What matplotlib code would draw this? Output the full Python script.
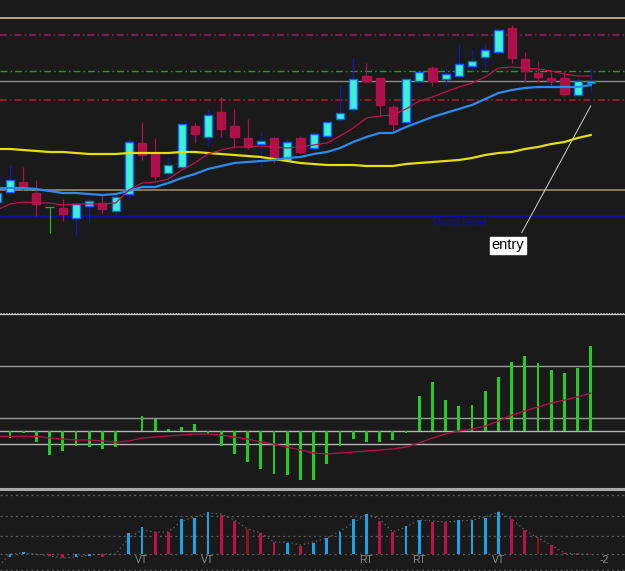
import matplotlib
matplotlib.use('Agg')
import matplotlib.pyplot as plt
import numpy as np
from matplotlib.lines import Line2D

plt.rcParams['lines.scale_dashes'] = False
plt.rcParams['font.family'] = ['Liberation Sans', 'DejaVu Sans']

# ---------------- data (price in pips above a base level) ----------------
opens  = [109, 119, 129, 118, 104, 103,  93, 105, 108, 100,
          117, 168, 158, 138, 144, 185, 174, 199, 185, 173,
          167, 173, 151, 173, 163, 175, 192, 202, 235, 233,
          204, 189, 230, 243, 232, 235, 245, 254, 259, 283,
          252, 238, 233, 233, 216, 228]
highs  = [121, 146, 144, 131, 104, 112, 107, 114, 116, 119,
          173, 189, 173, 154, 187, 188, 202, 214, 202, 192,
          179, 175, 173, 175, 180, 189, 226, 253, 248, 233,
          206, 234, 239, 245, 243, 267, 262, 268, 281, 286,
          259, 250, 239, 240, 233, 243]
lows   = [106, 119, 121,  95,  78,  90,  76,  88,  98,  95,
          112, 151, 131, 131, 144, 168, 165, 174, 163, 162,
          144, 148, 149, 157, 160, 174, 190, 199, 228, 194,
          180, 189, 230, 225, 225, 235, 240, 244, 256, 248,
          229, 229, 226, 215, 216, 220]
closes = [118, 131, 123, 107, 104,  97, 107, 110, 102, 114,
          169, 156, 135, 146, 187, 177, 196, 182, 174, 164,
          170, 152, 169, 159, 177, 189, 198, 232, 230, 206,
          187, 232, 239, 230, 237, 247, 250, 261, 281, 253,
          240, 234, 230, 217, 230, 230]

ma_fast = [101, 107, 109, 108, 108, 106, 107, 107, 107, 108,
           121, 128, 129, 132, 141, 148, 157, 161, 164, 164,
           165, 164, 163, 164, 166, 168, 175, 183, 193, 195,
           196, 202, 210, 214, 219, 224, 228, 234, 243, 244,
           243, 242, 240, 237, 235, 235]
ma_mid  = [123, 123, 123, 122, 120, 118, 118, 117, 116, 117,
           120, 124, 124, 128, 133, 137, 142, 145, 148, 149,
           150, 151, 153, 154, 157, 159, 163, 169, 174, 178,
           178, 184, 189, 194, 198, 202, 206, 212, 218, 221,
           223, 224, 224, 224, 224, 226]
ma_slow = [162, 162, 161, 160, 159, 159, 158, 157, 157, 157,
           158, 158, 158, 158, 159, 159, 158, 157, 156, 155,
           154, 152, 150, 148, 147, 146, 146, 146, 145, 145,
           145, 147, 148, 149, 150, 151, 153, 156, 158, 159,
           162, 164, 167, 169, 173, 176]

level_top = 292.7
level_r2 = 276.3
level_r1 = 239.7
level_mid = 229.7
level_s1 = 211.0
level_low = 121.3
pivot_level = 94.7

# oscillator histogram and signal
osc_hist = [0.00, -0.54, -0.13, -0.85, -1.85, -1.54, -1.15, -1.23, -1.38, -1.23,
            0.00, 1.15, 0.92, 0.15, 0.31, 0.54, -0.23, -1.15, -1.77, -2.38,
            -2.92, -3.31, -3.38, -3.77, -3.77, -2.54, -1.15, -0.62, -0.85, -0.85,
            -0.69, -0.15, 2.69, 3.77, 2.38, 1.92, 2.00, 3.08, 4.15, 5.31,
            5.77, 5.23, 4.69, 4.46, 4.85, 6.54]
osc_signal = [-0.41, -0.41, -0.41, -0.41, -0.54, -0.62, -0.69, -0.69, -0.77, -0.85,
              -0.77, -0.54, -0.46, -0.38, -0.31, -0.23, -0.23, -0.31, -0.46, -0.62,
              -0.85, -1.00, -1.23, -1.46, -1.69, -1.77, -1.69, -1.62, -1.54, -1.46,
              -1.38, -1.23, -0.92, -0.54, -0.23, 0.00, 0.15, 0.38, 0.77, 1.23,
              1.54, 1.85, 2.15, 2.38, 2.62, 2.92]
osc_levels = [5, 1, 0, -1]

# bottom wave indicator
wave = [0, -3, 2, 0, -2, -4, -3, -2, -3, 0,
        21, 27, 22, 22, 35, 36, 42, 39, 33, 25,
        21, 12, 11, 8, 11, 16, 22, 35, 40, 33,
        22, 28, 34, 32, 32, 34, 34, 36, 42, 35,
        24, 16, 9, 1, 1, 0]
wave_col = ['b', 'b', 'b', 'b', 'r', 'r', 'b', 'b', 'r', 'b',
            'b', 'b', 'r', 'r', 'b', 'b', 'b', 'r', 'r', 'd',
            'r', 'r', 'b', 'r', 'b', 'b', 'b', 'b', 'b', 'r',
            'r', 'b', 'b', 'r', 'r', 'b', 'b', 'b', 'b', 'r',
            'r', 'd', 'r', 'r', 'r', 'r']
zigzag = [-14, 0, 1, 0, -2, -4, -3, -1, 0, 0,
          16, 24, 22, 22, 33, 37, 41, 40, 34, 25,
          21, 12, 12, 9, 12, 16, 23, 31, 40, 35,
          22, 27, 34, 33, 32, 33, 34, 37, 42, 35,
          24, 16, 9, 1, 0, 0]
wave_levels = [59, 38, 18, 0, -16]
wave_labels = [(11, 'VT'), (16, 'VT'), (28, 'RT'), (32, 'RT'), (38, 'VT'), (46, '-2')]

# ---------------- figure ----------------
BG = '#1a1a1a'
W, H = 625, 571
fig = plt.figure(figsize=(W / 100, H / 100), dpi=100, facecolor=BG)


def panel(top, bottom):
    ax = fig.add_axes([0, 1 - bottom / H, 1, (bottom - top) / H])
    ax.set_facecolor(BG)
    ax.set_axis_off()
    ax.set_xlim(0.242, 47.59)
    return ax


ax1 = panel(0, 312)
ax2 = panel(315, 487)
ax3 = panel(490, 571)
ax1.set_ylim(-1, 311)
ax2.set_ylim(-4.308, 8.923)
ax3.set_ylim(-17, 64)

x = np.arange(len(opens))
dd = (5, 2.2, 1.1, 2.2)

# levels
ax1.axhline(level_top, color='#d4bd8c', lw=1.2, zorder=1)
ax1.axhline(level_r2, color='#7c1a52', lw=1.6, ls=(0, dd), zorder=1)
ax1.axhline(level_r1, color='#2a962a', lw=1.0, ls=(0, dd), zorder=1)
ax1.axhline(level_mid, color='#8a8a8a', lw=1.0, zorder=1)
ax1.axhline(level_s1, color='#a0182e', lw=1.3, ls=(0, dd), zorder=1)
ax1.axhline(level_low, color='#9c8a66', lw=1.2, zorder=1)
ax1.axhline(pivot_level, color='#0a0ab4', lw=1.3, zorder=1)
ax1.text(33.05, 88, 'Pivot level', color='#10109a', fontsize=8.5,
         ha='left', va='center', zorder=2)

# candles
for i in x:
    o, h, l, c = opens[i], highs[i], lows[i], closes[i]
    if c > o:
        wick, face, edge = '#1414c0', '#3cf2d2', '#1262ff'
    elif c < o:
        wick, face, edge = '#b0104a', '#b0104a', '#b0104a'
    else:
        wick, face, edge = '#22b022', '#22b022', '#22b022'
    ax1.vlines(i, l, h, color=wick, lw=0.9, zorder=3)
    if c == o:
        ax1.hlines(o, i - 0.33, i + 0.33, color=wick, lw=0.9, zorder=4)
    else:
        ax1.bar(i, abs(c - o), bottom=min(o, c), width=0.62, color=face,
                edgecolor=edge, lw=1.0, zorder=4)

ax1.plot(x, ma_slow, color='#e4e000', lw=1.6, zorder=5)
ax1.plot(x, ma_mid, color='#2a8cf0', lw=1.6, zorder=5)
ax1.plot(x, ma_fast, color='#c0104c', lw=0.9, zorder=5)

# entry annotation
ax1.plot([39.77, 44.99], [78.3, 205], color='#d0d0d0', lw=0.7, zorder=6)
ax1.text(38.7, 65.5, 'entry', color='black', fontsize=10.5, ha='center',
         va='center', zorder=7,
         bbox=dict(boxstyle='square,pad=0.12', fc='white', ec='white'))

# oscillator panel
for lv in osc_levels:
    ax2.axhline(lv, color='#b4b4b4' if lv <= 0 else '#9a9a9a', lw=1.0, zorder=1)
ax2.bar(x, osc_hist, width=0.22, color='#22cc22', zorder=3)
ax2.plot(x, osc_signal, color='#b0104a', lw=1.0, zorder=4)

# wave panel
for lv in wave_levels:
    ax3.axhline(lv, color='#5a5a5a', lw=0.9, ls=(0, (1.5, 2.2)), zorder=1)
cmap = {'b': '#1aa4e8', 'r': '#c0104a', 'd': '#8c1020'}
ax3.bar(x, wave, width=0.2, color=[cmap[c] for c in wave_col], zorder=3)
ax3.plot(x, zigzag, color='#6a6a6a', lw=0.8, ls=(0, (1, 2)), zorder=2)
for i, t in wave_labels:
    ax3.text(i, -6, t, color='#8a8a8a', fontsize=7.5, ha='center', va='center')

# panel separators
fig.add_artist(Line2D([0, 1], [1 - 312.7 / H] * 2, transform=fig.transFigure,
                      color='#9aa29a', lw=0.8, ls=(0, (1, 1))))
fig.add_artist(Line2D([0, 1], [1 - 314.3 / H] * 2, transform=fig.transFigure,
                      color='#d0d0d0', lw=0.9))
fig.add_artist(Line2D([0, 1], [1 - 488.7 / H] * 2, transform=fig.transFigure,
                      color='#a8a8a8', lw=2.2))

fig.savefig('out.png', dpi=100, facecolor=BG)
